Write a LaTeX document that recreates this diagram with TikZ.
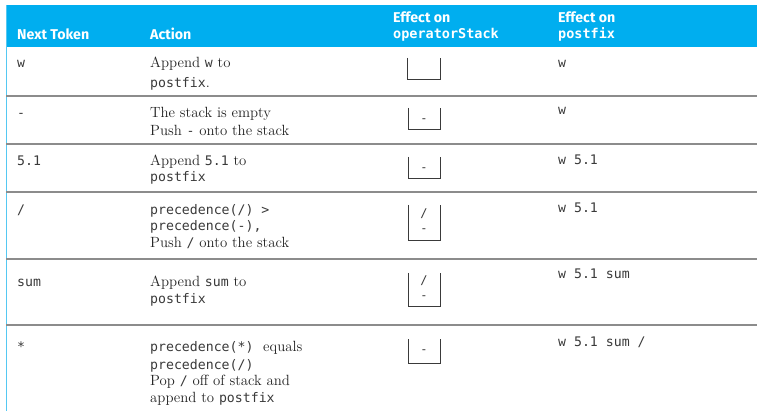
\documentclass[tikz,border=0pt]{standalone}
\usepackage{fontspec}
\setmonofont{DejaVu Sans Mono}
\newfontfamily\hdrfont{Fira Sans}
\definecolor{headcyan}{HTML}{00AEEF}
\definecolor{edgecyan}{HTML}{55C8F2}
\definecolor{rulegray}{HTML}{8C8C8C}
\definecolor{inkgray}{HTML}{3A3A3A}
\definecolor{serifink}{HTML}{222222}
\newcommand{\cd}[1]{{\ttfamily\fontsize{13.2}{16}\selectfont\color{inkgray}#1}}
\tikzset{
  x=1pt, y=-1pt,
  hdr/.style={anchor=base west, inner sep=0pt, text=white,
    font=\hdrfont\bfseries\fontsize{14.2}{16}\selectfont},
  hdrcode/.style={anchor=base west, inner sep=0pt, text=white,
    font=\ttfamily\bfseries\fontsize{13.5}{16}\selectfont},
  tok/.style={anchor=base west, inner sep=0pt, text=inkgray,
    font=\ttfamily\fontsize{13.2}{16}\selectfont},
  act/.style={anchor=base west, inner sep=0pt, text=serifink,
    font=\fontsize{14.8}{17}\selectfont},
  rowrule/.style={draw=rulegray, line width=1.5pt},
  stackbox/.style={draw=inkgray, line width=1pt},
  stackitem/.style={inner sep=0pt, text=inkgray,
    font=\ttfamily\fontsize{12}{14}\selectfont}
}
\begin{document}
\begin{tikzpicture}
\useasboundingbox (0,0) rectangle (757,411);
\fill[white] (0,0) rectangle (757,411);

% header band and left edge
\fill[headcyan] (6,5) rectangle (757,47);
\draw[edgecyan, line width=1.3pt] (6.5,5) -- (6.5,411);

\node[hdr] (hTok) at (17,39.5) {Next Token};
\node[hdr] (hAct) at (150,39.5) {Action};
\node[hdr] (hStk) at (393,22.7) {Effect on};
\node[hdrcode] (hStkB) at (393,39) {operatorStack};
\node[hdr] (hPf) at (558,22.7) {Effect on};
\node[hdrcode] (hPfB) at (558,39) {postfix};

% row separators
\foreach \yy/\nm in {96/r1,144/r2,192/r3,259/r4,325/r5}{
  \coordinate (\nm a) at (6,\yy);
  \coordinate (\nm b) at (757,\yy);
  \draw[rowrule] (\nm a) -- (\nm b);
}

% row 1
\node[tok] (t1) at (17,68) {w};
\node[act] (a1a) at (150,68) {Append \cd{w} to};
\node[act] (a1b) at (150,88) {\cd{postfix}.};
\node[tok] (p1) at (558,68) {w};

% row 2
\node[tok] (t2) at (17,118) {-};
\node[act] (a2a) at (150,118) {The stack is empty};
\node[act] (a2b) at (150,136) {Push \cd{-} onto the stack};
\node[tok] (p2) at (558,115) {w};

% row 3
\node[tok] (t3) at (17,166) {5.1};
\node[act] (a3a) at (150,166) {Append \cd{5.1} to};
\node[act] (a3b) at (150,182) {\cd{postfix}};
\node[tok] (p3) at (558,165) {w 5.1};

% row 4
\node[tok] (t4) at (17,215) {/};
\node[act] (a4a) at (150,215) {\cd{precedence(/) >}};
\node[act] (a4b) at (150,231) {\cd{precedence(-),}};
\node[act] (a4c) at (150,248) {Push \cd{/} onto the stack};
\node[tok] (p4) at (558,213) {w 5.1};

% row 5
\node[tok] (t5) at (17,287) {sum};
\node[act] (a5a) at (150,287) {Append \cd{sum} to};
\node[act] (a5b) at (150,304) {\cd{postfix}};
\node[tok] (p5) at (558,279) {w 5.1 sum};

% row 6
\node[tok] (t6) at (17,352) {*};
\node[act] (a6a) at (150,352) {\cd{precedence(*)}\ \ equals};
\node[act] (a6b) at (150,369) {\cd{precedence(/)}};
\node[act] (a6c) at (150,385) {Pop \cd{/} off of stack and};
\node[act] (a6d) at (150,402) {append to \cd{postfix}};
\node[tok] (p6) at (558,346) {w 5.1 sum /};

% operator stacks
\draw[stackbox] (407,58) -- (407,80) -- (440,80) -- (440,58);

\draw[stackbox] (408,108) -- (408,130) -- (440,130) -- (440,108);
\node[stackitem] (s2a) at (424,121) {-};

\draw[stackbox] (408,157) -- (408,179) -- (440,179) -- (440,157);
\node[stackitem] (s3a) at (424,170) {-};

\draw[stackbox] (408,205) -- (408,241) -- (440,241) -- (440,205);
\node[stackitem] (s4a) at (424,214) {/};
\node[stackitem] (s4b) at (424,231) {-};

\draw[stackbox] (408,273) -- (408,307) -- (440,307) -- (440,273);
\node[stackitem] (s5a) at (424,281) {/};
\node[stackitem] (s5b) at (424,298) {-};

\draw[stackbox] (408,339) -- (408,363) -- (440,363) -- (440,339);
\node[stackitem] (s6a) at (424,352) {-};
\end{tikzpicture}
\end{document}
